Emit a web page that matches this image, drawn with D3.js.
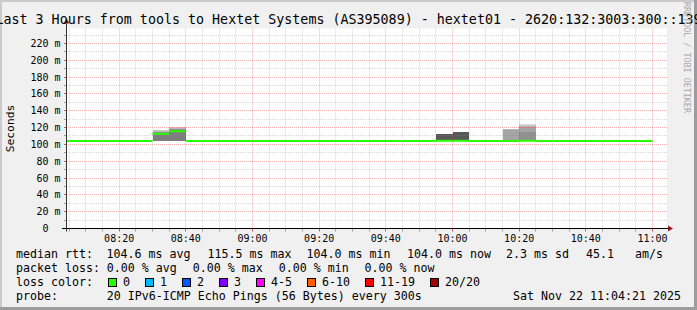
<!DOCTYPE html>
<html><head><meta charset="utf-8">
<script src="https://cdn.jsdelivr.net/npm/d3@7"></script>
<style>
body{margin:0;background:#f0f0f0;overflow:hidden}
svg text{font-family:"DejaVu Sans Mono",monospace;white-space:pre}
</style>
</head><body>
<svg id="chart" width="697" height="310"></svg>
<script>
// ---------------- data ----------------
const title = "Last 3 Hours from tools to Hextet Systems (AS395089) - hextet01 - 2620:132:3003:300::139";
const yAxisTitle = "Seconds";
const watermark = "RRDTOOL / TOBI OETIKER";
const rangeStart = "08:04:21";
const rangeEnd = "11:04:21";
const intervalStarts = ["08:00","08:05","08:10","08:15","08:20","08:25","08:30","08:35","08:40","08:45",
  "08:50","08:55","09:00","09:05","09:10","09:15","09:20","09:25","09:30","09:35",
  "09:40","09:45","09:50","09:55","10:00","10:05","10:10","10:15","10:20","10:25",
  "10:30","10:35","10:40","10:45","10:50","10:55"];
const medianRtt = [104.0,104.0,104.0,104.0,104.0,104.0,112.6,115.5,104.0,104.1,
  104.0,104.0,104.0,104.0,104.1,104.0,104.0,104.0,104.0,104.0,
  104.0,104.0,104.0,104.2,104.2,104.0,104.0,104.1,104.3,104.0,
  104.0,104.0,104.0,104.0,104.0,104.0];
const smokeStarts = ["08:30","08:35","09:55","10:00","10:15","10:20"];
const smokePings = [
  [104.3,104.3,104.4,104.4,104.5,104.6,112.4,112.5,112.6,112.6,112.6,112.7,112.8,113.0,113.6,114.5,115.3,116.0,116.6,117.1],
  [104.3,104.3,104.4,104.4,104.5,104.6,115.2,115.3,115.4,115.5,115.5,115.6,115.8,116.0,116.8,117.8,118.8,119.6,120.4,121.0],
  [104.1,104.1,104.1,104.1,104.1,104.1,104.1,104.1,104.2,104.2,104.2,104.2,112.2,112.2,112.2,112.2,112.2,112.2,112.2,112.2],
  [104.1,104.1,104.1,104.1,104.1,104.1,104.1,104.1,104.2,104.2,104.2,104.2,114.6,114.6,114.6,114.6,114.6,114.6,114.6,114.6],
  [104.0,104.0,104.0,104.0,104.1,104.1,104.1,104.1,104.1,104.1,104.1,104.1,104.1,104.1,104.1,104.1,117.5,118.0,118.1,118.2],
  [104.0,104.0,104.0,104.1,104.2,104.3,104.3,104.3,104.3,104.3,104.3,104.3,104.3,104.3,104.3,115.0,121.0,122.0,123.0,124.1]
];
const yTickValues = [0,20,40,60,80,100,120,140,160,180,200,220];
const xTickLabels = ["08:20","08:40","09:00","09:20","09:40","10:00","10:20","10:40","11:00"];
const lossLabels = ["0","1","2","3","4-5","6-10","11-19","20/20"];
const lossColors = ["#26ff00","#00b8ff","#0059ff","#7e00ff","#ff00ff","#ff5e00","#ff0000","#a10000"];
const rttRow = ["median rtt:","104.6 ms avg","115.5 ms max","104.0 ms min","104.0 ms now","2.3 ms sd","45.1","am/s"];
const lossRow = ["packet loss:","0.00 % avg","0.00 % max","0.00 % min","0.00 % now"];
const probeRow = ["probe:","20 IPv6-ICMP Echo Pings (56 Bytes) every 300s","Sat Nov 22 11:04:21 2025"];
const lossTitle = "loss color:";

// ---------------- layout ----------------
const W = 697, H = 310;
const plot = {l:67, r:667, t:28.5, b:228.5};
const yMax = 237.8;
const svg = d3.select("#chart");
const day = (s)=>{const p=s.split(":").map(Number);return new Date(2025,10,22,p[0],p[1],p[2]||0);};

const x = d3.scaleTime().domain([day(rangeStart), day(rangeEnd)]).range([plot.l, plot.r]);
const y = d3.scaleLinear().domain([0, yMax]).range([plot.b, plot.t]);
const crisp = v => Math.floor(v) + 0.5;

// background + shading
svg.append("rect").attr("width",W).attr("height",H).attr("fill","#f0f0f0");
svg.append("rect").attr("x",0).attr("y",0).attr("width",W).attr("height",2).attr("fill","#cbcbcb");
svg.append("rect").attr("x",0).attr("y",0).attr("width",2).attr("height",H).attr("fill","#cbcbcb");
svg.append("rect").attr("x",0).attr("y",H-3).attr("width",W).attr("height",3).attr("fill","#9c9c9c");
svg.append("rect").attr("x",W-3).attr("y",0).attr("width",3).attr("height",H).attr("fill","#9c9c9c");
svg.append("rect").attr("x",plot.l).attr("y",plot.t).attr("width",plot.r-plot.l).attr("height",plot.b-plot.t).attr("fill","#ffffff");

svg.append("clipPath").attr("id","pc").append("rect")
  .attr("x",plot.l).attr("y",plot.t-2).attr("width",plot.r-plot.l).attr("height",plot.b-plot.t+2);
const g = svg.append("g").attr("clip-path","url(#pc)");

// smoke (smokeping style: band i spans ping i .. ping n+1-i, darker towards the centre)
const step = 5*60*1000;
smokeStarts.forEach((s,k)=>{
  const p = smokePings[k], n = p.length, half = n/2;
  const t0 = day(s), t1 = new Date(+t0+step);
  for(let i=1;i<=half;i++){
    const lo = p[i-1], hi = p[n-i];
    if(hi<=lo) continue;
    const c = Math.round(190/half*(half-i))+50;
    g.append("rect")
      .attr("x",x(t0)).attr("width",x(t1)-x(t0))
      .attr("y",y(hi)).attr("height",y(lo)-y(hi))
      .attr("fill",d3.rgb(c,c,c)).attr("shape-rendering","crispEdges");
  }
});

// median line (loss 0 -> green)
intervalStarts.forEach((s,k)=>{
  const t0 = day(s), t1 = new Date(+t0+step);
  g.append("line").attr("x1",x(t0)).attr("x2",x(t1))
    .attr("y1",y(medianRtt[k])).attr("y2",y(medianRtt[k]))
    .attr("stroke",lossColors[0]).attr("stroke-width",2);
});

// grid (drawn over the data, like rrdtool)
const minorCol = "rgba(140,140,140,0.35)", majorCol = "rgba(230,60,60,0.4)";
const grid = svg.append("g");
d3.range(10, yMax, 10).forEach(v=>{
  const major = v%20===0;
  grid.append("line").attr("x1",plot.l-3).attr("x2",plot.r).attr("y1",crisp(y(v))).attr("y2",crisp(y(v)))
    .attr("stroke",major?majorCol:minorCol).attr("stroke-dasharray","1,1");
  grid.append("line").attr("x1",plot.l-3).attr("x2",plot.l).attr("y1",crisp(y(v))).attr("y2",crisp(y(v)))
    .attr("stroke",major?"#c06060":"#a0a0a0");
});
const minorTimes = d3.timeMinute.every(5).range(day(rangeStart), day(rangeEnd));
minorTimes.forEach(t=>{
  const major = t.getMinutes()%20===0;
  const xx = crisp(x(t));
  grid.append("line").attr("x1",xx).attr("x2",xx).attr("y1",plot.t).attr("y2",plot.b)
    .attr("stroke",major?majorCol:minorCol).attr("stroke-dasharray","1,1");
  grid.append("line").attr("x1",xx).attr("x2",xx).attr("y1",plot.b).attr("y2",plot.b+3)
    .attr("stroke",major?"#c06060":"#a0a0a0");
});

// axes
const ax = svg.append("g");
ax.append("line").attr("x1",plot.l-5).attr("x2",plot.r+3).attr("y1",crisp(plot.b)).attr("y2",crisp(plot.b)).attr("stroke","#000");
ax.append("line").attr("x1",crisp(plot.l)-1).attr("x2",crisp(plot.l)-1).attr("y1",plot.b+3).attr("y2",plot.t-5).attr("stroke","#333");
ax.append("path").attr("d",`M${plot.r+1},${crisp(plot.b)-3}L${plot.r+6},${crisp(plot.b)}L${plot.r+1},${crisp(plot.b)+3}Z`).attr("fill","#8b1a1a");
const ya = crisp(plot.l)-1;
ax.append("path").attr("d",`M${ya-3},${plot.t-5}L${ya},${plot.t-10}L${ya+3},${plot.t-5}Z`).attr("fill","#8b1a1a");

// y tick labels
yTickValues.forEach(v=>{
  svg.append("text").attr("x",60.5).attr("y",crisp(y(v))).attr("text-anchor","end")
    .attr("dominant-baseline","central").attr("font-size","10px").attr("fill","#000")
    .text(v===0?"0  ":v+" m");
});
// x tick labels
const fmt = d3.timeFormat("%H:%M");
minorTimes.filter(t=>xTickLabels.includes(fmt(t))).forEach(t=>{
  svg.append("text").attr("x",x(t)).attr("y",238).attr("text-anchor","middle")
    .attr("dominant-baseline","central").attr("font-size","10px").attr("fill","#000").text(fmt(t));
});

// titles
svg.append("text").attr("x",W/2).attr("y",19.5).attr("text-anchor","middle")
  .attr("dominant-baseline","central").attr("font-size","13.33px").attr("fill","#000").text(title);
svg.append("text").attr("transform",`translate(10,${(plot.t+plot.b)/2}) rotate(-90)`)
  .attr("text-anchor","middle").attr("dominant-baseline","central").attr("font-size","11.3px").attr("fill","#000").text(yAxisTitle);
svg.append("text").attr("transform",`translate(686.5,2) rotate(90)`)
  .attr("text-anchor","start").attr("dominant-baseline","central").attr("font-size","8.4px").attr("fill","#a8a8a8").text(watermark);

// legend
const lf = "11.63px";
const rowText = (items, xs, yy)=>items.forEach((t,i)=>{
  svg.append("text").attr("x",xs[i]).attr("y",yy).attr("dominant-baseline","central")
    .attr("font-size",lf).attr("fill","#000").text(t);
});
rowText(rttRow,[16,106.5,207.5,306.5,407,506,586,635],254.3);
rowText(lossRow,[16,106.8,192.8,278.8,364.5],268.3);
rowText(probeRow,[16,106.8,513],296.2);
rowText([lossTitle],[16],282.3);
const cw = 7;
let bx = 108;
lossLabels.forEach((lab,i)=>{
  svg.append("rect").attr("x",bx+0.5).attr("y",278.5).attr("width",8).attr("height",8)
    .attr("fill",lossColors[i]).attr("stroke","#000").attr("stroke-width",1);
  svg.append("text").attr("x",bx+15).attr("y",282.3).attr("dominant-baseline","central")
    .attr("font-size",lf).attr("fill","#000").text(lab);
  bx = bx + 15 + lab.length*cw + 15;
});
</script>
</body></html>
